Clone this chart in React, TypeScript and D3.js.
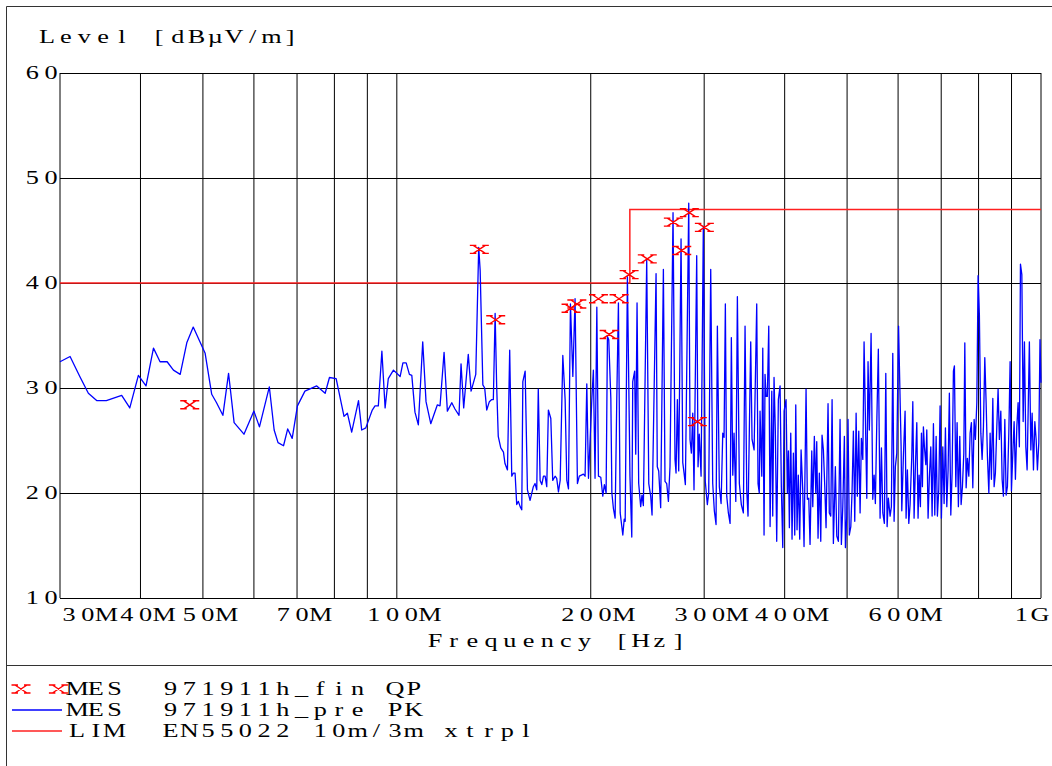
import React from 'react';
import * as d3 from 'd3';

const W = 1052;
const H = 766;

// axis definitions
const yTicks = [10, 20, 30, 40, 50, 60];
const xGridMHz = [30, 40, 50, 60, 70, 80, 90, 100, 200, 300, 400, 500, 600, 700, 800, 900, 1000];
const xLabelMHz = [30, 40, 50, 70, 100, 200, 300, 400, 600, 1000];
const xLabelText = ['30M', '40M', '50M', '70M', '100M', '200M', '300M', '400M', '600M', '1G'];

// limit line EN55022 10m/3m xtrpl
const limitMHz = [30, 230, 230, 1000];
const limitDb = [40, 40, 47, 47];

// final QP measurements
const markerMHz = [47.7, 134.3, 142.4, 186.4, 190.3, 205.6, 213.6, 221.3, 229.4, 244.8, 268.7, 276.9, 284.5, 292.8, 300.2];
const markerDb = [28.4, 43.2, 36.5, 37.6, 38.0, 38.5, 35.1, 38.5, 40.8, 42.3, 45.8, 43.1, 46.7, 26.8, 45.3];

// pre-scan PK trace [MHz, dBuV/m]
const traceA: [number, number][] = [
  [30.0, 32.5], [31.1, 33.0], [32.2, 31.1], [33.2, 29.5], [34.2, 28.8], [35.4, 28.8], [37.4, 29.3], [38.5, 28.1],
  [39.7, 31.2], [40.8, 30.2], [41.9, 33.8], [42.9, 32.5], [44.0, 32.5], [45.0, 31.7], [46.1, 31.3], [47.2, 34.3],
  [48.3, 35.8], [50.4, 33.3], [51.6, 29.4], [52.5, 28.6], [53.7, 27.4], [54.8, 31.4], [55.9, 26.7], [57.9, 25.6],
  [60.0, 27.8], [61.2, 26.3], [63.4, 30.1], [64.5, 26.0], [65.4, 24.8], [66.7, 24.5], [67.7, 26.1], [68.8, 25.2],
  [70.1, 28.3], [72.0, 29.7], [75.1, 30.2], [77.4, 29.5], [78.6, 31.0], [80.5, 30.9], [82.8, 27.3], [83.8, 27.6],
  [85.1, 25.8], [87.2, 28.8], [88.2, 26.0], [89.5, 26.2], [91.6, 27.9], [92.5, 28.3], [93.6, 28.3], [94.8, 33.5],
  [95.9, 28.1], [97.0, 30.9], [98.8, 31.7], [101.2, 31.1], [102.2, 32.4], [103.4, 32.4], [104.6, 31.3], [105.5, 31.2],
  [106.7, 27.7], [108.0, 26.5], [109.7, 34.4], [111.0, 28.7], [112.9, 26.6], [115.6, 28.4], [116.7, 28.3], [118.4, 33.4],
  [119.8, 27.8], [121.7, 28.6], [123.1, 28.0], [124.9, 27.4], [125.8, 32.3], [127.0, 28.1], [129.1, 33.2], [130.4, 29.7],
  [132.6, 31.3], [134.0, 43.4], [134.7, 41.2],
];

const traceB: [number, number][] = [
  [136.0, 30.3], [136.9, 30.0], [137.9, 27.9], [139.2, 28.7], [140.4, 28.9], [141.2, 28.9], [142.1, 37.1], [142.9, 30.1],
  [143.7, 25.4], [145.0, 24.3], [146.4, 23.9], [147.2, 22.8], [148.5, 22.2], [149.7, 33.6], [150.8, 21.6], [151.7, 21.9],
  [152.6, 21.9], [153.5, 18.9], [154.4, 19.2], [155.4, 18.7], [156.3, 18.4], [156.9, 30.6], [158.2, 31.6], [159.5, 20.3],
  [161.0, 19.3], [162.9, 20.6], [163.9, 20.9], [164.9, 20.3], [165.8, 29.9], [166.9, 21.2], [167.9, 20.8], [168.9, 21.6],
  [169.9, 21.6], [170.9, 20.6], [171.9, 27.9], [173.4, 27.1], [174.6, 21.2], [176.1, 21.6], [177.1, 21.4], [178.2, 20.1],
  [179.3, 21.2], [181.0, 33.1], [182.5, 28.9], [183.6, 21.2], [184.7, 20.4], [186.0, 38.0], [187.6, 31.1], [189.1, 38.5],
  [190.7, 20.9], [192.0, 21.6], [194.8, 21.8], [196.0, 21.6], [197.2, 30.4], [198.4, 21.4], [200.8, 29.0], [201.9, 31.7],
  [203.1, 21.4], [204.4, 37.7], [205.6, 21.6], [207.3, 21.5], [208.8, 19.7], [210.0, 20.8], [211.3, 20.0], [212.3, 34.9],
  [213.3, 34.6], [214.9, 29.0], [215.7, 20.0], [216.9, 18.5], [218.2, 17.6], [219.5, 28.9], [220.8, 38.1], [222.2, 18.1],
  [224.3, 16.0], [225.4, 17.5], [226.2, 17.3], [228.0, 40.6], [230.1, 21.6], [231.6, 15.8], [232.4, 30.6], [234.0, 31.6],
  [234.9, 23.7], [236.0, 38.1], [237.4, 20.9], [239.1, 18.7], [240.2, 19.8], [241.4, 18.8], [244.3, 42.2], [246.1, 20.9],
  [247.8, 19.7], [249.0, 17.9], [252.6, 40.9], [253.7, 22.5], [255.0, 22.1], [256.8, 18.6], [259.3, 41.3], [260.8, 21.1],
  [262.4, 20.9], [264.0, 19.2], [265.5, 22.5], [268.4, 46.7], [270.3, 23.2], [271.3, 21.9], [272.6, 28.9], [273.9, 22.1],
  [276.2, 44.2], [277.9, 22.9], [279.2, 21.9], [280.5, 20.8], [283.9, 47.6], [285.2, 25.1], [286.6, 23.8], [288.0, 27.6],
  [289.3, 20.3], [292.1, 42.6], [293.5, 22.5], [294.8, 25.6], [296.7, 21.6], [299.1, 45.4], [301.2, 21.1], [303.4, 18.9],
  [304.9, 20.0], [307.1, 41.3], [309.3, 20.9], [311.1, 18.3], [313.0, 17.0], [314.5, 35.9], [316.7, 20.6], [318.7, 19.0],
  [320.6, 25.7], [322.1, 25.3], [323.6, 38.0], [325.2, 19.7], [327.1, 18.1], [329.1, 17.1], [330.6, 34.8], [332.3, 21.7],
  [333.8, 25.7], [335.9, 19.2], [337.8, 38.7], [340.2, 20.9], [342.6, 18.9], [345.1, 18.1], [347.2, 35.9], [349.3, 20.3],
  [350.9, 17.8], [354.3, 34.4], [356.0, 25.1], [358.6, 24.1], [362.0, 38.0], [363.7, 20.9], [365.3, 20.0],
];

const traceC: [number, number][] = [
  [366.3, 27.8], [368.6, 21.6], [369.9, 33.8], [371.6, 16.0], [372.9, 31.3], [374.3, 29.2], [376.0, 29.2], [377.9, 35.9],
  [379.7, 16.8], [382.0, 29.7], [383.3, 17.8], [385.1, 31.0], [386.9, 25.9], [388.8, 15.4], [391.1, 28.9], [393.5, 30.2],
  [395.3, 20.6], [397.3, 14.8], [399.2, 27.8], [402.0, 28.9], [403.9, 20.0], [405.4, 24.0], [406.8, 16.7], [408.8, 25.7],
  [410.7, 15.6], [412.7, 23.8], [414.7, 16.0], [416.2, 28.4], [418.1, 16.5], [420.0, 21.7], [422.1, 15.6], [424.2, 24.1],
  [426.7, 20.3], [428.7, 14.9], [431.8, 29.9], [433.8, 19.4], [436.0, 19.5], [438.0, 15.1], [440.7, 24.0], [442.3, 18.7],
  [444.8, 25.4], [447.1, 20.0], [448.6, 24.9], [450.7, 15.7], [452.8, 21.9], [455.1, 15.4], [457.2, 25.5], [459.4, 24.1],
  [461.7, 20.6], [463.8, 16.7], [467.1, 28.5], [469.2, 18.1], [471.7, 17.8], [473.9, 28.9], [476.1, 15.2], [479.5, 22.5],
  [481.9, 15.9], [484.7, 15.4], [487.6, 27.0], [489.9, 15.1], [492.4, 18.7], [495.2, 25.4], [497.0, 14.8], [499.4, 17.8],
  [501.7, 27.0], [504.0, 16.0], [506.7, 16.8], [509.0, 20.2], [511.4, 25.9], [513.9, 17.3], [516.4, 27.6], [518.7, 19.7],
  [521.3, 25.9], [523.8, 18.1], [526.2, 25.2], [528.9, 23.2], [531.3, 34.4], [533.8, 27.3], [536.5, 19.5], [538.9, 32.5],
  [541.4, 26.0], [544.8, 35.2], [548.1, 19.4], [550.7, 21.7], [553.2, 19.0], [556.0, 26.7], [559.1, 33.7], [562.6, 17.6],
  [565.3, 24.3], [568.1, 18.1], [571.3, 17.1], [574.2, 31.4], [576.9, 16.8], [579.5, 19.5], [583.1, 17.8], [585.8, 18.7],
  [588.7, 33.3], [591.5, 17.3], [594.2, 22.5], [597.2, 23.8], [601.0, 35.9],
];

const traceD: [number, number][] = [
  [606.5, 24.4], [608.0, 18.3], [611.5, 23.5], [615.2, 27.8], [617.4, 17.6], [620.3, 22.2], [623.4, 17.1], [626.3, 18.9],
  [630.1, 23.5], [632.4, 28.7], [635.3, 17.6], [638.3, 22.5], [641.5, 26.7], [644.4, 17.6], [646.8, 21.7], [649.8, 18.7],
  [652.2, 25.7], [654.5, 20.6], [656.8, 26.3], [659.2, 24.4], [662.5, 22.7], [664.8, 26.0], [667.9, 17.6], [670.9, 21.4],
  [674.4, 24.4], [677.6, 17.8], [680.8, 26.6], [684.1, 17.9], [687.4, 25.4], [690.5, 17.8], [693.9, 20.3], [697.2, 28.3],
  [700.5, 17.6], [704.0, 24.4], [707.3, 19.0], [710.6, 26.2], [714.1, 18.7], [717.4, 22.2], [720.7, 29.5], [724.4, 17.9],
  [727.8, 21.9], [731.2, 31.6], [733.8, 32.1], [737.5, 20.6], [740.9, 26.7], [744.3, 18.7], [748.0, 25.4], [751.6, 18.9],
  [755.1, 20.6], [758.9, 23.8], [761.6, 34.3], [765.2, 20.5], [768.7, 23.3], [772.6, 21.6], [776.2, 25.7], [779.8, 26.7],
  [783.7, 20.5], [787.4, 27.0], [791.0, 25.1], [795.0, 28.6], [798.6, 40.7], [802.3, 37.0], [806.5, 25.7], [810.2, 23.2],
  [814.0, 26.3], [818.0, 32.9], [821.9, 28.6], [825.7, 23.5], [829.9, 20.0], [833.7, 25.7], [837.6, 21.3], [841.8, 29.0],
  [845.7, 20.6], [849.6, 21.9], [853.9, 26.3], [857.8, 29.9], [861.7, 25.1], [866.2, 27.8], [870.3, 21.3], [874.3, 19.7],
  [878.7, 27.0], [882.8, 19.8], [886.9, 20.6], [891.3, 25.7], [895.5, 32.5], [899.7, 20.2], [904.2, 23.8], [908.4, 26.8],
  [912.6, 21.3], [917.2, 26.3], [921.4, 28.6], [925.6, 24.4], [929.2, 41.8], [933.8, 40.8], [938.2, 26.8], [942.5, 34.4],
  [947.2, 24.4], [951.6, 22.2], [956.0, 29.2], [959.3, 34.4], [964.3, 24.1], [968.8, 27.6], [973.4, 22.2], [978.2, 26.8],
  [982.8, 25.1], [987.3, 22.2], [992.2, 24.8], [996.4, 34.6], [1000, 30.5],
];

const legendLines = [
  '   MES  971911h_fin QP',
  '   MES  971911h_pre PK',
  '   LIM  EN55022 10m/3m xtrpl',
];

const PITCH = 18.7;
const FONT = "'Liberation Serif', 'Times New Roman', serif";
const MARKER_PATH = 'M-6,-4L6,4M-6,4L6,-4M-9.5,-4H-3M3,-4H9.5M-9.5,4H-3M3,4H9.5';

function Mono({ text, c0, y, fill = '#000' }: { text: string; c0: number; y: number; fill?: string }) {
  return (
    <g fill={fill} fontFamily={FONT} fontSize={19}>
      {Array.from(text).map((ch, i) =>
        ch === ' ' ? null : (
          <text key={i} transform={`translate(${c0 + i * PITCH},${y}) scale(1.38,1)`} textAnchor="middle">
            {ch}
          </text>
        )
      )}
    </g>
  );
}

export default function App() {
  const x = d3.scaleLog().domain([30, 1000]).range([60, 1041]);
  const y = d3.scaleLinear().domain([10, 60]).range([598, 73]);
  const line = d3
    .line<[number, number]>()
    .x((d) => x(d[0]))
    .y((d) => y(d[1]));

  const trace = [...traceA, ...traceB, ...traceC, ...traceD];
  const limit: [number, number][] = limitMHz.map((f, i) => [f, limitDb[i]]);
  const [x0, x1] = x.range();
  const [yb, yt] = y.range();

  return (
    <svg
      width={W}
      height={H}
      style={{ position: 'absolute', left: 0, top: 0, background: '#fff' }}
      xmlns="http://www.w3.org/2000/svg"
    >
      <rect x={0} y={0} width={W} height={H} fill="#fff" />
      {/* frame */}
      <path d={`M6.5,${H}V6.5H${W}`} fill="none" stroke="#333" strokeWidth={1} />
      <line x1={6.5} x2={W} y1={665.5} y2={665.5} stroke="#333" strokeWidth={1} />

      {/* grid */}
      {xGridMHz.map((f) => (
        <line key={'vx' + f} x1={x(f)} x2={x(f)} y1={yt} y2={yb} stroke="#000" strokeWidth={1} />
      ))}
      {yTicks.map((t) => (
        <line key={'hy' + t} x1={x0} x2={x1} y1={y(t)} y2={y(t)} stroke="#000" strokeWidth={1} shapeRendering="crispEdges" />
      ))}

      {/* y labels */}
      {yTicks.map((t) => {
        const s = String(t);
        return <Mono key={'yl' + t} text={s} c0={51 - (s.length - 1) * PITCH} y={y(t) + 6} />;
      })}

      {/* x labels */}
      {xLabelMHz.map((f, i) => {
        const s = xLabelText[i];
        const center = x(f) + 5;
        let c0 = center - ((s.length - 1) * PITCH) / 2;
        c0 = Math.max(69, c0);
        c0 = Math.min(x1 - 1 - (s.length - 1) * PITCH, c0);
        return <Mono key={'xl' + f} text={s} c0={c0} y={621} />;
      })}

      <Mono text="Level [dBµV/m]" c0={47} y={43} />
      <Mono text="Frequency [Hz]" c0={435} y={647} />

      {/* limit */}
      <path d={line(limit) || ''} fill="none" stroke="#ff2020" strokeWidth={1.5} />

      {/* trace */}
      <path d={line(trace) || ''} fill="none" stroke="#0000ff" strokeWidth={1.3} strokeLinejoin="round" />

      {/* markers */}
      {markerMHz.map((f, i) => (
        <path
          key={'m' + i}
          d={MARKER_PATH}
          transform={`translate(${x(f)},${y(markerDb[i])})`}
          fill="none"
          stroke="#ff0000"
          strokeWidth={1.4}
        />
      ))}

      {/* legend */}
      <path d={MARKER_PATH} transform={`translate(21,689)`} fill="none" stroke="#ff0000" strokeWidth={1.4} />
      <path d={MARKER_PATH} transform={`translate(${21 + 2 * PITCH},689)`} fill="none" stroke="#ff0000" strokeWidth={1.4} />
      <line x1={12} x2={62} y1={710} y2={710} stroke="#0000ff" strokeWidth={1.3} />
      <line x1={12} x2={62} y1={731} y2={731} stroke="#ff2020" strokeWidth={1.5} />
      {legendLines.map((s, i) => (
        <Mono key={'lg' + i} text={s} c0={21} y={695 + i * 21} />
      ))}
    </svg>
  );
}
